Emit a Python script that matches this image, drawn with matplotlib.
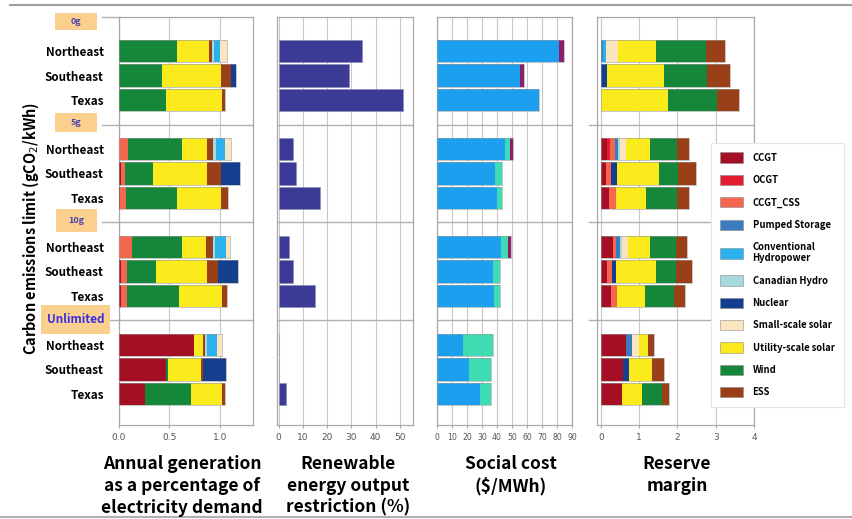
import matplotlib
matplotlib.use("Agg")
import matplotlib.pyplot as plt
from matplotlib.patches import Rectangle, Patch
from matplotlib.lines import Line2D
import matplotlib.transforms as mtrans

W, H = 853, 519
KFONT = ["Noto Sans CJK KR", "DejaVu Sans"]

regions = ["Northeast", "Southeast", "Texas"]
groups = ["0g", "5g", "10g", "Unlimited"]

# ---- Panel 1: annual generation (share of demand), rows: group x region ----
gen_ccgt     = [0, 0, 0,   0, 0.02, 0.01,   0, 0.02, 0.02,   0.74, 0.47, 0.26]
gen_ccgt_css = [0, 0, 0,   0.09, 0.04, 0.06,   0.13, 0.06, 0.06,   0, 0, 0]
gen_wind     = [0.58, 0.43, 0.47,   0.54, 0.28, 0.51,   0.50, 0.29, 0.52,   0, 0.02, 0.45]
gen_solar    = [0.31, 0.58, 0.55,   0.24, 0.53, 0.43,   0.23, 0.50, 0.42,   0.09, 0.32, 0.31]
gen_ess      = [0.03, 0.10, 0.03,   0.06, 0.14, 0.07,   0.07, 0.11, 0.05,   0.02, 0.02, 0.03]
gen_nuclear  = [0, 0.05, 0,   0, 0.19, 0,   0, 0.20, 0,   0, 0.23, 0]
gen_canadian = [0.02, 0, 0,   0.03, 0, 0,   0.02, 0, 0,   0.02, 0, 0]
gen_hydro    = [0.06, 0, 0,   0.09, 0, 0,   0.11, 0, 0,   0.10, 0, 0]
gen_small    = [0.07, 0, 0,   0.06, 0, 0,   0.04, 0, 0,   0.05, 0, 0]

# ---- Panel 2: renewable energy output restriction (%) ----
curtailment = [34.4, 28.9, 51.2,   5.9, 7.2, 16.9,   4.1, 6.1, 15.1,   0, 0, 3.1]

# ---- Panel 3: social cost ($/MWh), three components ----
cost_main  = [81.3, 55.6, 68.0,   45.1, 38.7, 40.0,   42.4, 37.4, 37.8,   17.4, 21.1, 28.4]
cost_extra = [0, 0, 0,   3.8, 4.4, 3.1,   5.2, 4.4, 4.0,   20.0, 14.7, 7.4]
cost_other = [3.1, 2.2, 0,   1.5, 0.5, 0,   1.5, 0.5, 0,   0, 0, 0]

# ---- Panel 4: reserve margin ----
res_ccgt     = [0, 0, 0,   0.17, 0.13, 0.22,   0.31, 0.17, 0.26,   0.67, 0.57, 0.55]
res_ocgt     = [0, 0, 0,   0.06, 0, 0,   0, 0, 0,   0, 0, 0]
res_css      = [0, 0, 0,   0.14, 0.13, 0.17,   0.09, 0.11, 0.15,   0, 0, 0]
res_pumped   = [0.06, 0, 0,   0.07, 0, 0,   0.09, 0, 0,   0.14, 0, 0]
res_hydro    = [0.07, 0, 0,   0, 0, 0,   0, 0, 0,   0, 0, 0]
res_canadian = [0, 0, 0,   0.06, 0, 0,   0.06, 0, 0,   0, 0, 0]
res_nuclear  = [0, 0.17, 0,   0, 0.15, 0,   0, 0.12, 0,   0, 0.16, 0]
res_small    = [0.31, 0, 0,   0.17, 0, 0,   0.16, 0, 0,   0.19, 0, 0]
res_solar    = [0.99, 1.49, 1.75,   0.61, 1.11, 0.79,   0.57, 1.03, 0.75,   0.22, 0.61, 0.52]
res_wind     = [1.31, 1.11, 1.29,   0.70, 0.49, 0.81,   0.68, 0.54, 0.76,   0, 0, 0.54]
res_ess      = [0.50, 0.60, 0.57,   0.33, 0.48, 0.30,   0.28, 0.42, 0.29,   0.17, 0.30, 0.17]

legend_labels = ["CCGT", "OCGT", "CCGT_CSS", "Pumped Storage", "Conventional\nHydropower",
                 "Canadian Hydro", "Nuclear", "Small-scale solar", "Utility-scale solar",
                 "Wind", "ESS"]
colors = {
    "CCGT": "#a50f24", "OCGT": "#e21b30", "CCGT_CSS": "#f4674e",
    "Pumped Storage": "#3b7cc0", "Conventional\nHydropower": "#2bb2ee",
    "Canadian Hydro": "#a5d9de", "Nuclear": "#143f8e",
    "Small-scale solar": "#fbe5bf", "Utility-scale solar": "#fbea1c",
    "Wind": "#14873a", "ESS": "#9a4018",
}

# row positions
rows = []
for g in range(len(groups)):
    for k in range(len(regions)):
        rows.append(4 * g + k)
seps = [3, 7, 11]
ylim = (15.27, -1.39)
bar_h = 0.93

def fx(px):
    return px / W

def fy(py):
    return 1 - py / H

fig = plt.figure(figsize=(W / 100, H / 100), dpi=100)

top, bot = 17, 425
ax_specs = [(119, 253), (277, 413), (437, 572), (597, 754)]
axes = []
for (l, r) in ax_specs:
    ax = fig.add_axes([fx(l), fy(bot), fx(r - l), (bot - top) / H])
    axes.append(ax)

grid_c = "#c8c8c8"
spine_c = "#a8a8a8"

def style(ax, xlim, ticks, ticklabels, tfs=6.5):
    ax.set_xlim(*xlim)
    ax.set_ylim(*ylim)
    ax.set_xticks(ticks)
    ax.set_xticklabels(ticklabels, fontsize=tfs, color="#555555")
    ax.tick_params(axis="x", length=2.5, color=spine_c, pad=3)
    ax.grid(axis="x", color=grid_c, linewidth=0.8)
    ax.set_axisbelow(True)
    for s in ax.spines.values():
        s.set_color(spine_c)
        s.set_linewidth(0.9)
    for s in seps:
        ax.axhline(s, color="#b0b0b0", linewidth=1.0, zorder=1)

def stack(ax, series_list, color_list):
    left = [0.0] * len(rows)
    for vals, c in zip(series_list, color_list):
        ax.barh(rows, vals, left=left, height=bar_h, color=c,
                edgecolor="none", zorder=3)
        left = [a + b for a, b in zip(left, vals)]
    ax.barh(rows, left, height=bar_h, color="none", edgecolor="#9a9a9a",
            linewidth=0.4, zorder=4)

# Panel 1
ax1 = axes[0]
style(ax1, (0, 1.33), [0, 0.5, 1.0], ["0.0", "0.5", "1.0"])
stack(ax1,
      [gen_ccgt, gen_ccgt_css, gen_wind, gen_solar, gen_ess, gen_nuclear,
       gen_canadian, gen_hydro, gen_small],
      [colors["CCGT"], colors["CCGT_CSS"], colors["Wind"], colors["Utility-scale solar"],
       colors["ESS"], colors["Nuclear"], colors["Canadian Hydro"],
       colors["Conventional\nHydropower"], colors["Small-scale solar"]])
ax1.set_yticks(rows)
ax1.set_yticklabels(regions * len(groups), fontsize=8.4, fontweight="bold", family=KFONT)
ax1.tick_params(axis="y", length=0, pad=11)

# Panel 2
ax2 = axes[1]
style(ax2, (-0.7, 55.4), [0, 10, 20, 30, 40, 50], ["0", "10", "20", "30", "40", "50"])
ax2.barh(rows, curtailment, height=bar_h, color="#3b3b95", edgecolor="#8a8ab0",
         linewidth=0.4, zorder=3)
ax2.set_yticks([])

# Panel 3
ax3 = axes[2]
style(ax3, (0, 90), list(range(0, 91, 10)), [str(v) for v in range(0, 91, 10)], tfs=5.6)
stack(ax3, [cost_main, cost_extra, cost_other], ["#1d9ff0", "#3fdcb4", "#8c1e6c"])
ax3.set_yticks([])

# Panel 4
ax4 = axes[3]
style(ax4, (-0.1, 4.0), [0, 1, 2, 3, 4], ["0", "1", "2", "3", "4"])
stack(ax4,
      [res_ccgt, res_ocgt, res_css, res_pumped, res_hydro, res_canadian, res_nuclear,
       res_small, res_solar, res_wind, res_ess],
      [colors[k] for k in legend_labels])
ax4.set_yticks([])

# extend top frame and separators of panel 1 to the left
for yv in [ylim[1]] + seps:
    tr = mtrans.blended_transform_factory(ax1.transAxes, ax1.transData)
    ax1.add_line(Line2D([-0.13, 0], [yv, yv], transform=tr, color="#b0b0b0",
                        linewidth=1.0, clip_on=False))
for yv in seps:
    tr = mtrans.blended_transform_factory(ax4.transAxes, ax4.transData)
    ax4.add_line(Line2D([-0.05, 0], [yv, yv], transform=tr, color="#b0b0b0",
                        linewidth=1.0, clip_on=False))

# group label boxes
box_specs = [(55, 13, 42, 17, 6.5), (55, 113, 42, 19, 6.5), (56, 209, 41, 23, 6.5),
             (41, 305, 69, 29, 8.5)]
for (bx, by, bw, bh, fs), name in zip(box_specs, groups):
    fig.add_artist(Rectangle((fx(bx), fy(by + bh)), fx(bw), bh / H,
                             transform=fig.transFigure, facecolor="#fbd08e",
                             edgecolor="none", zorder=5))
    fig.text(fx(bx + bw / 2), fy(by + bh / 2), name, ha="center", va="center",
             fontsize=fs, fontweight="bold", family=KFONT,
             color="#3b2fe0" if name == "Unlimited" else "#4a46a8", zorder=6)

# y axis title
fig.text(fx(31), fy(228), "Carbon emissions limit (gCO$_2$/kWh)", rotation=90,
         ha="center", va="center", fontsize=10.5, fontweight="bold", family=KFONT)

# bottom titles
titles = [(182, "Annual generation\nas a percentage of\nelectricity demand"),
          (348, "Renewable\nenergy output\nrestriction (%)"),
          (511, "Social cost\n($/MWh)"),
          (677, "Reserve\nmargin")]
for xc, t in titles:
    fig.text(fx(xc), fy(455), t, ha="center", va="top", fontsize=12.5,
             fontweight="bold", family=KFONT, linespacing=1.28)

# horizontal rules
fig.add_artist(Line2D([fx(10), 1.0], [fy(5), fy(5)], transform=fig.transFigure,
                      color="#a0a0a0", linewidth=1.5))
fig.add_artist(Line2D([0.0, 1.0], [fy(517), fy(517)], transform=fig.transFigure,
                      color="#b0b0b0", linewidth=1.5))

# legend
handles = [Patch(facecolor=colors[k], edgecolor="#8a8a8a", linewidth=0.4, label=k)
           for k in legend_labels]
leg = fig.legend(handles=handles, loc="upper left",
                 bbox_to_anchor=(fx(711), fy(143)),
                 prop={"weight": "bold", "size": 6.8, "family": KFONT},
                 handlelength=2.4, handleheight=1.3, labelspacing=1.27,
                 handletextpad=1.0, borderpad=1.0, borderaxespad=0.0,
                 frameon=True, fancybox=False,
                 edgecolor="#e6e6e6", framealpha=1.0)
leg.get_frame().set_linewidth(0.8)
leg.set_zorder(10)

fig.savefig("out.png", dpi=100)
